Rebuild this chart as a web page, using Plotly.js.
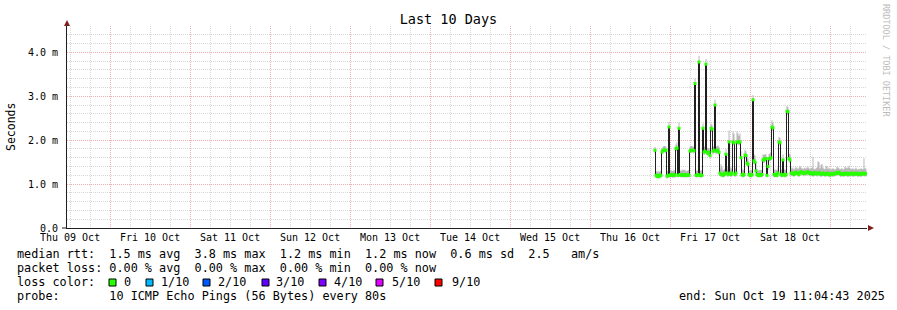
<!DOCTYPE html>
<html>
<head>
<meta charset="utf-8">
<script src="https://cdn.plot.ly/plotly-3.0.1.min.js"></script>
<style>html,body{margin:0;padding:0;background:#fff;}#chart{width:897px;height:310px;}</style>
</head>
<body>
<div id="chart"></div>
<script>
// ---- data (milliseconds), one value per 18-minute column, starting Thu 16 Oct 19:19:43 ----
const seriesStart = Date.UTC(2025, 9, 16, 19, 19, 43);
const columnStepMs = 1080000;

const medianRtt = [
  1.77,1.20,1.18,1.20,1.17,1.20,1.20,1.73,1.77,1.77,
  1.77,1.77,1.18,1.20,2.30,1.20,1.22,1.20,1.20,1.22,
  1.20,1.81,1.82,1.20,2.27,1.22,1.20,1.22,1.20,1.20,
  1.21,1.20,1.20,1.22,1.20,1.75,1.77,1.77,1.77,1.76,
  3.29,1.20,1.20,1.22,3.78,1.20,1.20,1.20,2.27,1.73,
  1.75,3.73,1.73,1.70,1.72,1.65,2.27,2.25,1.75,1.77,
  2.80,1.75,1.77,1.77,1.72,1.25,1.22,1.22,1.20,1.22,
  1.25,1.68,1.25,1.22,1.96,1.25,1.22,1.25,1.96,1.94,
  1.22,1.25,1.96,1.96,1.95,1.96,1.60,1.22,1.20,1.22,
  1.66,1.65,1.48,1.45,1.22,1.20,1.20,1.22,2.92,1.53,
  1.50,1.30,1.22,1.20,1.20,1.22,1.20,1.22,1.55,1.55,
  1.58,1.58,1.20,1.40,1.58,1.58,1.60,2.30,2.28,1.22,
  1.20,1.22,1.20,1.25,1.96,1.94,1.22,1.20,1.55,1.22,
  1.20,1.22,2.66,2.65,1.58,1.55,1.25,
  1.25,1.24,1.22,1.25,1.27,1.25,1.24,1.22,1.26,1.28,
  1.27,1.25,1.24,1.26,1.25,1.27,1.28,1.25,1.24,1.26,
  1.25,1.22,1.24,1.26,1.25,1.23,1.24,1.26,1.24,1.22,
  1.23,1.25,1.24,1.22,1.24,1.23,1.25,1.22,1.21,1.23,
  1.24,1.22,1.23,1.25,1.24,1.26,1.25,1.27,1.24,1.22,
  1.23,1.24,1.22,1.24,1.25,1.23,1.22,1.24,1.23,1.25,
  1.24,1.22,1.24,1.23,1.25,1.24,1.22,1.23,1.24,1.22,
  1.24,1.25,1.23,1.24,1.23,1.24
];

const pingHigh = [
  1.85,1.30,1.28,1.30,1.27,1.30,1.30,1.80,1.85,1.87,
  1.87,1.85,1.30,1.30,2.42,1.30,1.32,1.30,1.30,1.33,
  1.30,1.90,1.95,1.32,2.40,1.32,1.30,1.33,1.32,1.32,
  1.33,1.30,1.30,1.32,1.32,1.85,1.87,1.87,1.85,1.85,
  3.40,1.32,1.30,1.33,3.92,1.32,1.30,1.32,2.38,1.85,
  1.85,3.85,1.82,1.82,1.82,1.78,2.38,2.35,1.85,1.87,
  2.92,1.85,1.87,1.88,1.85,1.35,1.45,1.40,1.32,1.33,
  1.35,1.80,1.40,1.33,2.22,1.40,1.35,1.38,2.20,2.15,
  1.35,1.38,2.20,2.15,2.10,2.15,1.75,1.35,1.32,1.33,
  1.78,1.75,1.60,1.58,1.33,1.30,1.32,1.33,3.03,1.68,
  1.65,1.50,1.35,1.30,1.32,1.32,1.32,1.33,1.68,1.66,
  1.68,1.68,1.35,1.55,1.68,1.70,1.72,2.45,2.40,1.35,
  1.32,1.33,1.32,1.38,2.08,2.05,1.35,1.32,1.68,1.35,
  1.32,1.34,2.78,2.75,1.70,1.68,1.38,
  1.35,1.38,1.33,1.36,1.40,1.36,1.35,1.38,1.42,1.38,
  1.36,1.34,1.36,1.38,1.35,1.37,1.40,1.36,1.34,1.36,
  1.38,1.62,1.35,1.34,1.36,1.38,1.52,1.50,1.36,1.44,
  1.46,1.38,1.35,1.34,1.42,1.40,1.35,1.38,1.34,1.33,
  1.35,1.36,1.34,1.33,1.35,1.40,1.38,1.36,1.34,1.35,
  1.36,1.33,1.35,1.40,1.38,1.36,1.38,1.42,1.36,1.34,
  1.35,1.36,1.33,1.35,1.38,1.34,1.33,1.35,1.34,1.36,
  1.35,1.34,1.58,1.36,1.35,1.34
];

const pingLow = [
  1.70,1.14,1.12,1.14,1.12,1.14,1.15,1.68,1.72,1.72,
  1.72,1.70,1.12,1.14,2.22,1.14,1.16,1.15,1.14,1.16,
  1.14,1.76,1.76,1.15,2.20,1.16,1.15,1.16,1.15,1.15,
  1.16,1.15,1.15,1.16,1.15,1.70,1.72,1.72,1.72,1.70,
  3.20,1.15,1.15,1.16,3.70,1.15,1.15,1.15,2.20,1.66,
  1.68,3.65,1.66,1.64,1.66,1.58,2.20,2.18,1.68,1.70,
  2.72,1.68,1.70,1.70,1.65,1.18,1.17,1.16,1.15,1.16,
  1.18,1.62,1.18,1.16,1.90,1.18,1.16,1.18,1.90,1.88,
  1.16,1.18,1.90,1.90,1.88,1.90,1.54,1.16,1.15,1.16,
  1.60,1.58,1.42,1.40,1.16,1.15,1.15,1.16,2.85,1.46,
  1.44,1.24,1.16,1.15,1.15,1.16,1.15,1.16,1.48,1.48,
  1.52,1.52,1.15,1.32,1.52,1.52,1.54,2.22,2.20,1.16,
  1.15,1.16,1.15,1.18,1.90,1.88,1.16,1.15,1.48,1.16,
  1.15,1.16,2.58,2.58,1.52,1.48,1.18,
  1.19,1.18,1.16,1.19,1.21,1.19,1.18,1.16,1.20,1.22,
  1.21,1.19,1.18,1.20,1.19,1.21,1.22,1.19,1.18,1.20,
  1.19,1.16,1.18,1.20,1.19,1.17,1.18,1.20,1.18,1.16,
  1.17,1.19,1.18,1.16,1.18,1.17,1.19,1.16,1.15,1.17,
  1.18,1.16,1.17,1.19,1.18,1.20,1.19,1.21,1.18,1.16,
  1.17,1.18,1.16,1.18,1.19,1.17,1.16,1.18,1.17,1.19,
  1.18,1.16,1.18,1.17,1.19,1.18,1.16,1.17,1.18,1.16,
  1.18,1.19,1.17,1.18,1.17,1.18
];

const yTickVals = [0, 1, 2, 3, 4];
const yTickText = ['0.0', '1.0 m', '2.0 m', '3.0 m', '4.0 m'];

const lossLabels = ['0', '1/10', '2/10', '3/10', '4/10', '5/10', '9/10'];
const lossColors = ['#26ff00', '#00b8ff', '#0059ff', '#5e00ff', '#7e00ff', '#dd00ff', '#ff0000'];

const legendRtt = 'median rtt:  1.5 ms avg  3.8 ms max  1.2 ms min  1.2 ms now  0.6 ms sd  2.5   am/s';
const legendLoss = 'packet loss: 0.00 % avg  0.00 % max  0.00 % min  0.00 % now';
const legendProbe = 'probe:       10 ICMP Echo Pings (56 Bytes) every 80s';
const legendEnd = 'end: Sun Oct 19 11:04:43 2025';

// ---- layout helpers ----
const rangeStart = Date.UTC(2025, 9, 9, 11, 4, 43);
const rangeEnd = Date.UTC(2025, 9, 19, 11, 4, 43);
const PL = 67, PT = 26, PW = 800, PH = 202;
const px = v => (v - PL) / PW;
const py = v => (PT + PH - v) / PH;
const MONO = 'DejaVu Sans Mono';

const times = medianRtt.map((_, i) => seriesStart + i * columnStepMs);
const markTimes = times.map(t => t + columnStepMs / 2);

const traces = [
  {x: times, y: pingLow, mode: 'lines', line: {width: 0, shape: 'hv'}, hoverinfo: 'skip', showlegend: false},
  {x: times, y: pingHigh, mode: 'lines', line: {width: 0, shape: 'hv'}, fill: 'tonexty', fillcolor: '#b8b8b8', hoverinfo: 'skip', showlegend: false},
  {x: times, y: medianRtt, mode: 'lines', line: {width: 1, color: '#202020', shape: 'hv'}, hoverinfo: 'skip', showlegend: false},
  {x: markTimes, y: medianRtt, mode: 'markers', marker: {symbol: 'square', size: 3, color: '#26ff00', line: {width: 0}}, hoverinfo: 'skip', showlegend: false}
];

const annotations = [];
function txt(text, x, y, opts) {
  annotations.push(Object.assign({
    text: text, xref: 'paper', yref: 'paper', x: px(x), y: py(y),
    xanchor: 'left', yanchor: 'middle', showarrow: false, borderpad: 0,
    font: {family: MONO, size: 11.8, color: '#000'}
  }, opts || {}));
}
txt(legendRtt, 16, 254);
txt(legendLoss, 16, 268);
txt('loss color:', 16, 282);
const boxX = [109, 146, 203, 262, 319, 376, 435];
const labX = [123, 160, 217, 275, 333, 391, 451];
lossLabels.forEach((l, i) => txt(l, labX[i], 282));
txt(legendProbe, 16, 296);
txt(legendEnd, 678, 296);
txt('Seconds', 11, 127, {xanchor: 'center', textangle: -90, font: {family: MONO, size: 11.5, color: '#000'}});
txt('RRDTOOL / TOBI OETIKER', 886, 60, {xanchor: 'center', textangle: 90, font: {family: MONO, size: 8.5, color: '#bcbcbc'}});

const shapes = [];
lossColors.forEach((c, i) => shapes.push({
  type: 'rect', xref: 'paper', yref: 'paper',
  x0: px(boxX[i]), x1: px(boxX[i] + 7), y0: py(286), y1: py(279),
  fillcolor: c, line: {color: '#000', width: 1}
}));
shapes.push({type: 'path', xref: 'paper', yref: 'paper', xsizemode: 'pixel', ysizemode: 'pixel',
  xanchor: 0, yanchor: 1, path: 'M -3,0 L 3,0 L 0,6 Z', fillcolor: '#801f1f', line: {width: 0}});
shapes.push({type: 'path', xref: 'paper', yref: 'paper', xsizemode: 'pixel', ysizemode: 'pixel',
  xanchor: 1, yanchor: 0, path: 'M 1,-3 L 1,3 L 7,0 Z', fillcolor: '#801f1f', line: {width: 0}});
shapes.push({type: 'line', xref: 'paper', yref: 'paper', xsizemode: 'pixel', xanchor: 0,
  x0: -5, x1: 0, y0: 0, y1: 0, line: {color: '#1f1f1f', width: 1}});

const gridMinor = '#d6d6d6';
const gridMajor = '#f0b0b0';

const layout = {
  width: 897, height: 310,
  margin: {l: PL, r: 897 - PL - PW, t: PT, b: 310 - PT - PH, pad: 0},
  paper_bgcolor: '#fff', plot_bgcolor: '#fff',
  showlegend: false,
  title: {text: 'Last 10 Days', font: {family: MONO, size: 13.5, color: '#000'},
    x: 0.5, xanchor: 'center', xref: 'container', y: 1 - 19 / 310, yanchor: 'middle', yref: 'container'},
  xaxis: {
    type: 'date', range: [rangeStart, rangeEnd], fixedrange: true,
    tick0: Date.UTC(2025, 9, 9), dtick: 86400000, tickmode: 'linear',
    ticklabelmode: 'period', tickformat: '%a %d %b',
    tickfont: {family: MONO, size: 10, color: '#000'},
    ticks: '', showgrid: true, gridcolor: gridMajor, griddash: '1px,1px', gridwidth: 1,
    minor: {dtick: 21600000, tick0: Date.UTC(2025, 9, 9), showgrid: true, gridcolor: gridMinor, griddash: '1px,1px', gridwidth: 1, ticks: ''},
    showline: true, linecolor: '#1f1f1f', linewidth: 1, zeroline: false, layer: 'below traces'
  },
  yaxis: {
    range: [0, 4.6], fixedrange: true,
    tickmode: 'array', tickvals: yTickVals, ticktext: yTickText,
    tickfont: {family: MONO, size: 10, color: '#000'},
    ticks: '', ticklabelstandoff: 6,
    showgrid: true, gridcolor: gridMajor, griddash: '1px,1px', gridwidth: 1,
    minor: {tickmode: 'linear', tick0: 0, dtick: 0.2, showgrid: true, gridcolor: gridMinor, griddash: '1px,1px', gridwidth: 1, ticks: ''},
    showline: true, linecolor: '#1f1f1f', linewidth: 1, zeroline: false
  },
  annotations: annotations,
  shapes: shapes
};

Plotly.newPlot('chart', traces, layout, {displayModeBar: false, staticPlot: true});
</script>
</body>
</html>
